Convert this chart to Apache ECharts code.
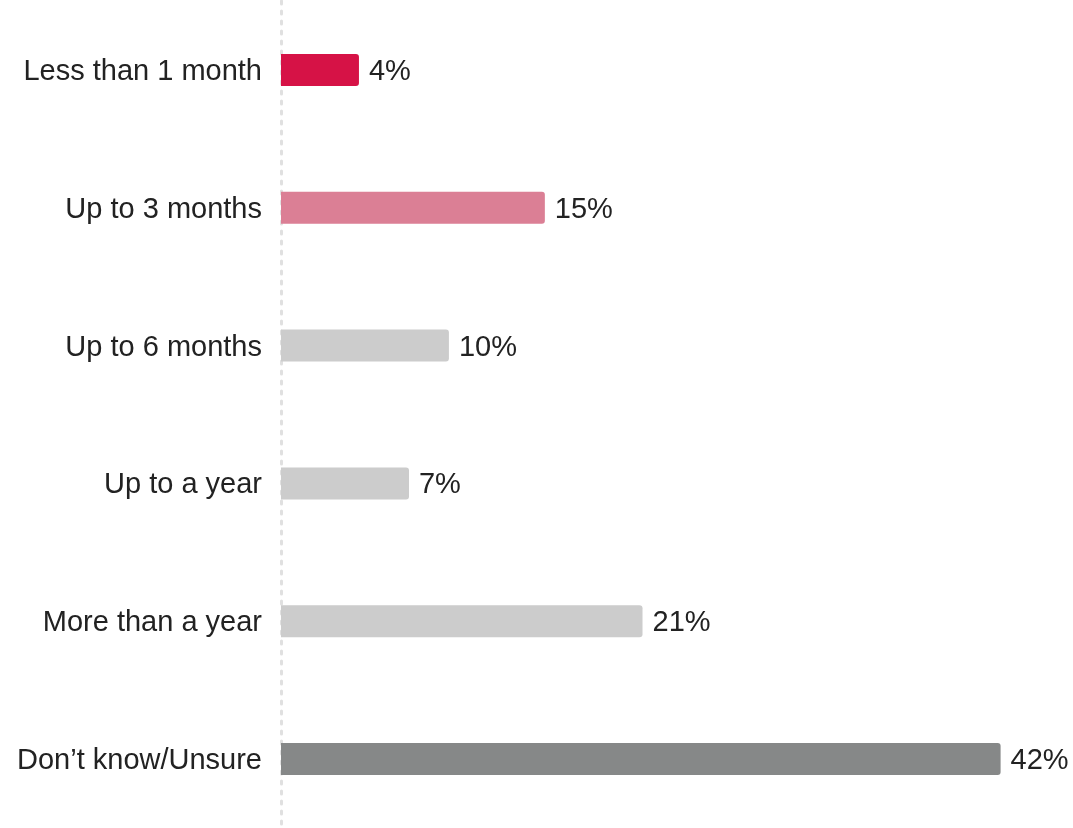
<!DOCTYPE html>
<html>
<head>
<meta charset="utf-8">
<script src="https://cdn.jsdelivr.net/npm/echarts@6/dist/echarts.min.js"></script>
<style>
  html, body { margin: 0; padding: 0; background: #fff; }
  #main { width: 1073px; height: 828px; }
</style>
</head>
<body>
<div id="main"></div>
<script>
const categories = ['Less than 1 month', 'Up to 3 months', 'Up to 6 months', 'Up to a year', 'More than a year', 'Don\u2019t know/Unsure'];
const values = [4.55, 15.4, 9.8, 7.47, 21.1, 42];
const labels = ['4%', '15%', '10%', '7%', '21%', '42%'];
const colors = ['#d61246', '#db7f95', '#cccccc', '#cccccc', '#cccccc', '#868888'];

window.onload = function () {
  const dom = document.getElementById('main');
  const myChart = echarts.init(dom);
  const font = 'Arial, "Liberation Sans", Helvetica, sans-serif';
  const option = {
    animation: false,
    grid: { left: 281, right: 21, top: 1, bottom: 0 },
    xAxis: {
      type: 'value',
      min: 0,
      max: 45,
      show: false
    },
    yAxis: {
      type: 'category',
      inverse: true,
      data: categories,
      axisTick: { show: false },
      axisLine: {
        show: true,
        lineStyle: { color: '#e0e0e0', width: 3, type: [3, 7] }
      },
      axisLabel: {
        margin: 19,
        formatter: v => '{t|' + v + '}',
        rich: {
          t: {
            color: '#222',
            fontSize: 29,
            fontFamily: font,
            padding: [4, 0, 0, 0]
          }
        }
      }
    },
    series: [{
      type: 'bar',
      barWidth: 32,
      data: values.map((v, i) => ({
        value: v,
        itemStyle: { color: colors[i], borderRadius: [0, 3, 3, 0] }
      })),
      label: {
        show: true,
        position: 'right',
        distance: 10,
        offset: [0, 2],
        color: '#222',
        fontSize: 29,
        fontFamily: font,
        formatter: p => labels[p.dataIndex]
      }
    }]
  };
  myChart.setOption(option, true);
};
</script>
</body>
</html>
